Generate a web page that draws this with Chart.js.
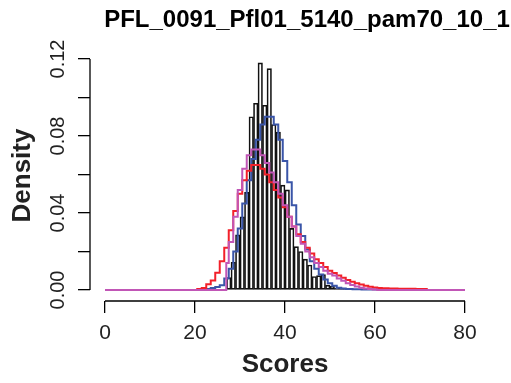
<!DOCTYPE html>
<html>
<head>
<meta charset="utf-8">
<script src="https://cdn.jsdelivr.net/npm/chart.js@4.4.1/dist/chart.umd.min.js"></script>
<style>
  html, body { margin: 0; padding: 0; background: #fff; }
  #wrap { width: 511px; height: 383px; }
</style>
</head>
<body>
<div id="wrap"><canvas id="c" width="511" height="383"></canvas></div>
<script>
// ---- data ----
const chartTitle = "PFL_0091_Pfl01_5140_pam70_10_1";
const xTitle = "Scores";
const yTitle = "Density";

// histogram: left edges of unit-width bins and their densities
const binStart = [27,28,29,30,31,32,33,34,35,36,37,38,39,40,41,42,43,44,45,46,47,48,49,50,51,52,53,54,55];
const binDensity = [0.0064,0.0144,0.0286,0.038,0.0507,0.090,0.097,0.118,0.096,0.115,0.086,0.082,0.0545,0.052,0.032,0.0225,0.020,0.016,0.013,0.007,0.0075,0.008,0.0025,0.002,0.001,0.001,0.0008,0.0005,0.0005];

// fitted density curves (x positions and values)
const redX = [0,20,21,22,23,24,25,26,27,28,29,30,31,32,33,34,35,36,37,38,39,40,41,42,43,44,45,46,47,48,49,50,51,52,53,54,55,56,57,58,59,60,61,62,64,66,68,70,71,72,80];
const redY = [0,0,0.0005,0.001,0.003,0.005,0.009,0.015,0.022,0.031,0.041,0.050,0.057,0.062,0.065,0.065,0.063,0.060,0.056,0.052,0.048,0.043,0.038,0.033,0.029,0.025,0.022,0.019,0.016,0.014,0.012,0.010,0.0088,0.0075,0.0063,0.0052,0.0043,0.0035,0.0028,0.0022,0.0017,0.0013,0.001,0.0009,0.0008,0.0007,0.0006,0.0005,0.0005,0,0];

const blueX = [0,22,23,24,25,26,27,28,29,30,31,32,33,34,35,36,37,38,39,40,41,42,43,44,45,46,47,48,49,50,51,52,53,54,56,58,60,62,63,80];
const blueY = [0,0,0.0005,0.001,0.0015,0.0025,0.006,0.011,0.020,0.032,0.045,0.057,0.068,0.078,0.086,0.090,0.090,0.086,0.078,0.067,0.056,0.044,0.034,0.028,0.021,0.015,0.011,0.008,0.0055,0.0035,0.0022,0.0012,0.0008,0.0005,0.0004,0.0003,0.0003,0.0002,0,0];

const magX = [0,26.9,27,28,29,30,31,32,33,34,35,36,37,38,39,40,41,42,43,44,45,46,47,48,49,50,51,52,53,54,55,56,57,58,59,60,61,80];
const magY = [0,0,0.014,0.025,0.038,0.052,0.063,0.070,0.073,0.073,0.070,0.066,0.061,0.056,0.050,0.044,0.038,0.033,0.028,0.024,0.020,0.017,0.014,0.012,0.010,0.0085,0.0075,0.006,0.0048,0.0035,0.0026,0.0018,0.0012,0.0008,0.0005,0.0003,0,0];

const xTickValues = [0,20,40,60,80];
const xTickLabels = ["0","20","40","60","80"];
const yTickValues = [0,0.02,0.04,0.06,0.08,0.10,0.12];
const yTickLabels = ["0.00","","0.04","","0.08","","0.12"];

// ---- chart ----
const FONT = '"Liberation Sans", Arial, Helvetica, sans-serif';
const pts = (xs, ys) => xs.map((x, i) => ({x: x, y: ys[i]}));

const bgPlugin = {
  id: 'bg',
  beforeDraw(chart) {
    const ctx = chart.ctx;
    ctx.save();
    ctx.fillStyle = '#ffffff';
    ctx.fillRect(0, 0, chart.width, chart.height);
    ctx.restore();
  }
};

const axisPlugin = {
  id: 'axisLines',
  afterDraw(chart) {
    const ctx = chart.ctx;
    const xs = chart.scales.x, ys = chart.scales.y;
    const ca = chart.chartArea;
    ctx.save();
    ctx.strokeStyle = '#000';
    ctx.lineWidth = 1.3;
    ctx.beginPath();
    ctx.moveTo(xs.getPixelForValue(xTickValues[0]), ca.bottom);
    ctx.lineTo(xs.getPixelForValue(xTickValues[xTickValues.length - 1]), ca.bottom);
    ctx.moveTo(ca.left, ys.getPixelForValue(yTickValues[0]));
    ctx.lineTo(ca.left, ys.getPixelForValue(yTickValues[yTickValues.length - 1]));
    ctx.stroke();
    // main title
    ctx.fillStyle = '#000';
    ctx.font = 'bold 24px ' + FONT;
    ctx.textAlign = 'center';
    ctx.textBaseline = 'alphabetic';
    ctx.fillText(chartTitle, 307, 27);
    ctx.restore();
  }
};

new Chart(document.getElementById('c'), {
  data: {
    datasets: [
      {
        type: 'line', label: 'magenta', data: pts(magX, magY), order: 0, stepped: 'middle',
        borderColor: '#C156B6', borderWidth: 2, pointRadius: 0, fill: false
      },
      {
        type: 'line', label: 'red', data: pts(redX, redY), order: 1, stepped: 'middle',
        borderColor: '#F2202A', borderWidth: 2, pointRadius: 0, fill: false
      },
      {
        type: 'line', label: 'blue', data: pts(blueX, blueY), order: 2, stepped: 'middle',
        borderColor: '#3A55A8', borderWidth: 2, pointRadius: 0, fill: false
      },
      {
        type: 'bar', label: 'hist', order: 3,
        data: binStart.map((b, i) => ({x: b + 0.5, y: binDensity[i]})),
        backgroundColor: 'rgba(255,255,255,0)', borderColor: '#111',
        borderWidth: 1, borderSkipped: false,
        barPercentage: 1, categoryPercentage: 1
      }
    ]
  },
  options: {
    responsive: false,
    animation: false,
    devicePixelRatio: 1,
    layout: { padding: { top: 50, right: 31, left: 0, bottom: 0 } },
    plugins: { legend: { display: false }, tooltip: { enabled: false }, title: { display: false } },
    scales: {
      x: {
        type: 'linear',
        offset: false,
        min: -3.3333, max: 83.3333,
        afterFit: (s) => { s.height = 82; },
        afterBuildTicks: (s) => { s.ticks = xTickValues.map(v => ({value: v})); },
        border: { display: false },
        grid: { display: true, offset: false, drawOnChartArea: false, drawTicks: true, tickLength: 12, color: '#000', lineWidth: 1.3 },
        ticks: {
          autoSkip: false, maxRotation: 0, minRotation: 0, padding: 8,
          color: '#222', font: { family: FONT, size: 21 },
          callback: (v, i) => xTickLabels[i]
        },
        title: { display: true, text: xTitle, color: '#222', font: { family: FONT, size: 26, weight: 'bold' }, padding: { top: 0, bottom: 3 } }
      },
      y: {
        type: 'linear',
        min: -0.005714, max: 0.12468,
        afterFit: (s) => { s.width = 90; },
        afterBuildTicks: (s) => { s.ticks = yTickValues.map(v => ({value: v})); },
        border: { display: false },
        grid: { display: true, drawOnChartArea: false, drawTicks: true, tickLength: 12, color: '#000', lineWidth: 1.3 },
        ticks: {
          autoSkip: false, minRotation: 90, maxRotation: 90, crossAlign: 'center', padding: 0,
          color: '#222', font: { family: FONT, size: 20 },
          callback: (v, i) => yTickLabels[i]
        },
        title: { display: true, text: yTitle, color: '#222', font: { family: FONT, size: 26, weight: 'bold' }, padding: { top: 7, bottom: 0 } }
      }
    }
  },
  plugins: [bgPlugin, axisPlugin]
});
</script>
</body>
</html>
